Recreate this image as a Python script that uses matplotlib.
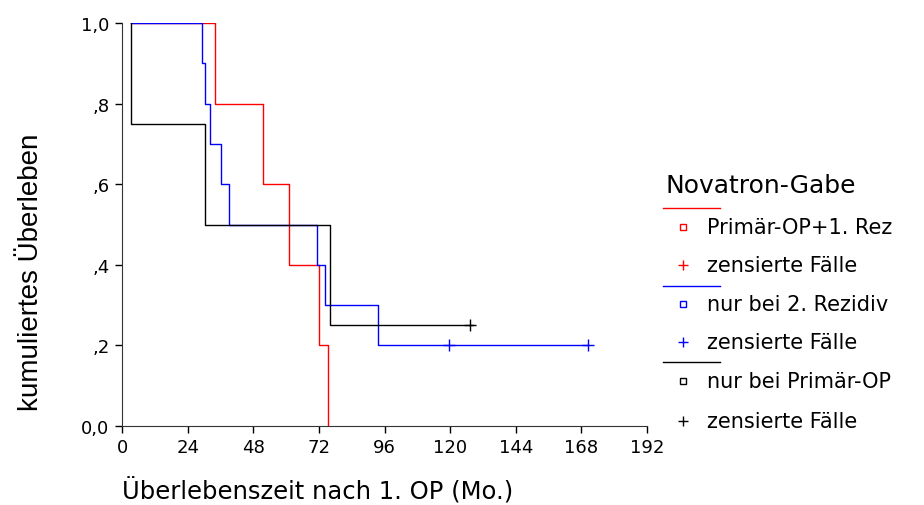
import matplotlib.pyplot as plt
from matplotlib.lines import Line2D

plt.rcParams['font.family'] = ['DejaVu Sans']

# Kaplan-Meier Stufen (Zeit in Monaten, kumuliertes Ueberleben)
red_t = [3.3, 34, 51.6, 61, 72.2, 75.3]
red_s = [1.0, 0.8, 0.6, 0.4, 0.2, 0.0]

blue_t = [3.3, 29.1, 30.4, 32.2, 36.2, 39.2, 71.3, 74.4, 93.5, 170.4]
blue_s = [1.0, 0.9, 0.8, 0.7, 0.6, 0.5, 0.4, 0.3, 0.2, 0.2]
blue_cens_t = [119.5, 170.4]
blue_cens_s = [0.2, 0.2]

black_t = [3.3, 3.3, 30.4, 76.2, 128.5]
black_s = [1.0, 0.75, 0.5, 0.25, 0.25]
black_cens_t = [127.3]
black_cens_s = [0.25]

xticks = [0, 24, 48, 72, 96, 120, 144, 168, 192]
yticks = [0, 0.2, 0.4, 0.6, 0.8, 1.0]
ylabels = ["0,0", ",2", ",4", ",6", ",8", "1,0"]

legend_title = "Novatron-Gabe"
legend_groups = ["Primär-OP+1. Rez", "nur bei 2. Rezidiv", "nur bei Primär-OP"]
legend_colors = ["#ff0000", "#0000ff", "#000000"]

W, H = 924, 506
def fx(px):
    return px / W
def fy(py):
    return 1 - py / H

fig = plt.figure(figsize=(9.24, 5.06), dpi=100)
ax = fig.add_axes([fx(122), fy(427), fx(647) - fx(122), fy(24) - fy(427)])

ax.step(red_t, red_s, where="post", color="#ff0000", lw=1)
ax.step(blue_t, blue_s, where="post", color="#0000ff", lw=1)
ax.plot(blue_cens_t, blue_cens_s, ls="none", marker="+", ms=8, color="#0000ff", mew=1)
ax.step(black_t, black_s, where="post", color="#000000", lw=1)
ax.plot(black_cens_t, black_cens_s, ls="none", marker="+", ms=8, color="#000000", mew=1)

ax.set_xlim(0, 192)
ax.set_ylim(0, 1)
ax.set_xticks(xticks)
ax.set_xticklabels([str(v) for v in xticks], fontsize=13)
ax.set_yticks(yticks)
ax.set_yticklabels(ylabels, fontsize=13)
ax.tick_params(direction="out", length=5, width=1, colors="#000000", pad=4)
for s in ["top", "right"]:
    ax.spines[s].set_visible(False)
for s in ["left", "bottom"]:
    ax.spines[s].set_color("#333333")

fig.text(fx(122), fy(491), "Überlebenszeit nach 1. OP (Mo.)", fontsize=17.5,
         ha="left", va="center")
fig.text(fx(31), fy(272), "kumuliertes Überleben", fontsize=20, rotation=90,
         ha="center", va="center", family=["Liberation Sans Narrow", "Liberation Sans"])

# Legende rechts, manuell gesetzt
fig.text(fx(665), fy(186), legend_title, fontsize=18, va="center", ha="left")
line_y = [209, 287, 363]
group_y = [228, 305, 382]
cens_y = [266, 343, 422]
for i in range(3):
    c = legend_colors[i]
    fig.add_artist(Line2D([fx(663), fx(720)], [fy(line_y[i]), fy(line_y[i])], color=c, lw=1))
    fig.add_artist(Line2D([fx(683)], [fy(group_y[i])], marker="s", ms=5, mfc="white", mec=c, mew=1, ls="none"))
    fig.text(fx(707), fy(group_y[i]), legend_groups[i], fontsize=15, va="center", ha="left")
    fig.add_artist(Line2D([fx(683)], [fy(cens_y[i])], marker="+", ms=7, color=c, mew=1, ls="none"))
    fig.text(fx(707), fy(cens_y[i]), "zensierte Fälle", fontsize=15, va="center", ha="left")

fig.savefig("out.png", dpi=100)
